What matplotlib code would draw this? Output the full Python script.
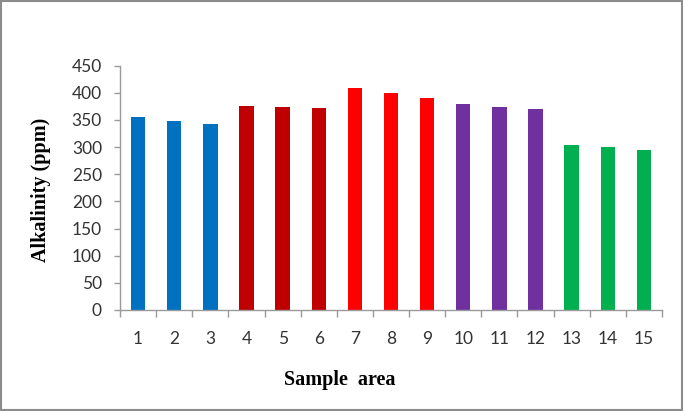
import numpy as np
import matplotlib
matplotlib.use('Agg')
import matplotlib.pyplot as plt
from matplotlib.patches import Rectangle

# data
areas = [str(i) for i in range(1, 16)]
alkalinity = [356, 349, 343, 376, 374, 372, 409, 400, 390, 379, 374, 370, 304, 300, 295]
bar_colors = ['#0070C0'] * 3 + ['#C00000'] * 3 + ['#FF0000'] * 3 + ['#7030A0'] * 3 + ['#00B050'] * 3
y_ticks = list(range(0, 451, 50))

fig = plt.figure(figsize=(6.85, 4.11), dpi=100)
ax = fig.add_axes([120 / 685, 1 - 310 / 411, 542 / 685, 244.3 / 411])

x = np.arange(1, len(areas) + 1)
ax.bar(x, alkalinity, width=0.4, color=bar_colors, edgecolor='none', zorder=2)

ax.set_xlim(0.5, len(areas) + 0.5)
ax.set_ylim(0, 450)
ax.set_yticks(y_ticks)
ax.set_xticks(x)
ax.set_xticklabels(areas)
ax.set_xticks(np.arange(0.5, len(areas) + 1, 1), minor=True)

for side in ['top', 'right']:
    ax.spines[side].set_visible(False)
for side in ['left', 'bottom']:
    ax.spines[side].set_color('#9a9a9a')
    ax.spines[side].set_linewidth(1)

ax.tick_params(axis='x', which='major', length=0, pad=15, labelsize=12.5, colors='#333333')
ax.tick_params(axis='x', which='minor', length=5, color='#9a9a9a', width=1)
ax.tick_params(axis='y', length=4, color='#9a9a9a', width=1, labelsize=12.5, labelcolor='#333333', pad=9)
for lab in ax.get_xticklabels() + ax.get_yticklabels():
    lab.set_fontfamily('Lato')

fig.text(41 / 685, 1 - 190 / 411, 'Alkalinity (ppm)', rotation=90, ha='center', va='center',
         fontfamily='Liberation Serif', fontweight='bold', fontsize=14.5)
fig.text(340 / 685, 1 - 380 / 411, 'Sample  area', ha='center', va='center',
         fontfamily='Liberation Serif', fontweight='bold', fontsize=14.5)

# grey frame around whole chart area
fig.patches.append(Rectangle((0.002, 0.003), 0.994, 0.994, transform=fig.transFigure,
                             fill=False, edgecolor='#8c8c8c', linewidth=1.5))

fig.savefig('out.png', dpi=100)
